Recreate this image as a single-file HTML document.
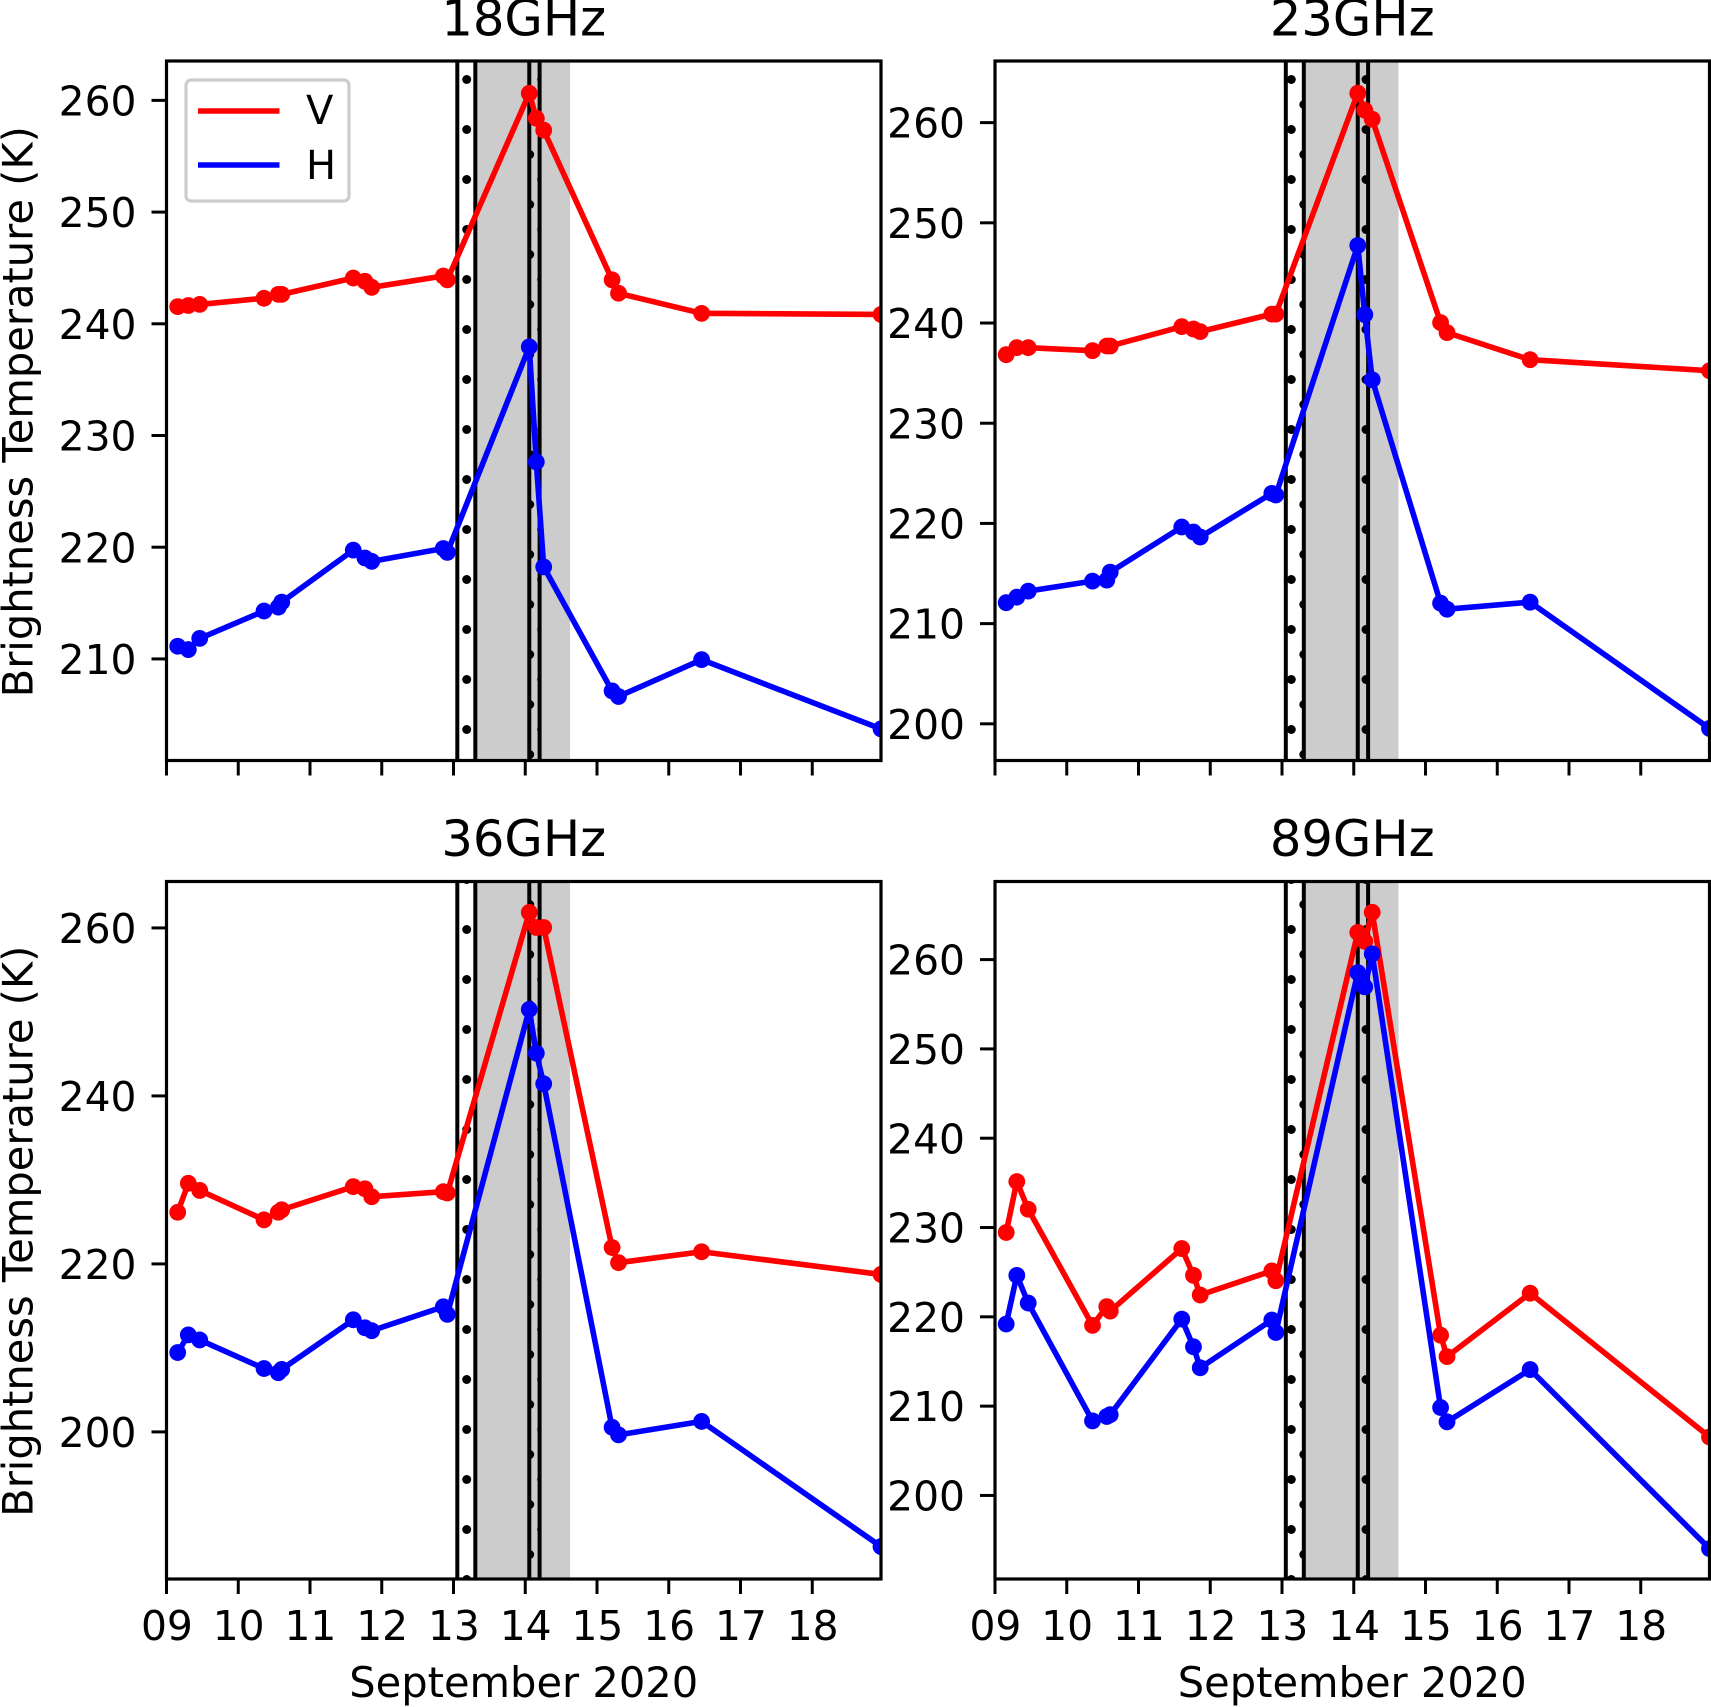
<!DOCTYPE html>
<html lang="en">
<head>
<meta charset="utf-8">
<title>Brightness Temperature, September 2020</title>
<style>
html,body{margin:0;padding:0;background:#fff;}
svg{display:block;font-family:"DejaVu Sans","Liberation Sans",sans-serif;fill:#000;}
</style>
</head>
<body>
<svg id="figure" xmlns="http://www.w3.org/2000/svg" width="1711" height="1707" viewBox="0 0 1711 1707">
<defs>
<pattern id="hatch-left" patternUnits="userSpaceOnUse" x="0" y="0" width="2000" height="50">
<circle cx="466.7" cy="29.5" r="4.5" fill="#000"/>
<circle cx="541.7" cy="29.5" r="4.5" fill="#000"/>
<circle cx="529.7" cy="4.5" r="4.5" fill="#000"/>
</pattern>
<pattern id="hatch-right" patternUnits="userSpaceOnUse" x="0" y="0" width="2000" height="50">
<circle cx="1291.3" cy="29.5" r="4.5" fill="#000"/>
<circle cx="1366" cy="29.5" r="4.5" fill="#000"/>
<circle cx="1303.8" cy="4.5" r="4.5" fill="#000"/>
</pattern>
</defs>
</svg>
<script>
// Observation times, in days of September 2020
const obsDays = [9.156,9.304,9.463,10.359,10.558,10.606,11.603,11.766,11.86,12.858,12.914,14.056,14.154,14.257,15.21,15.30,16.458,18.958];

// Series values (K)
const v18 = [241.5,241.6,241.7,242.25,242.6,242.6,244.06,243.77,243.23,244.24,243.9,260.6,258.36,257.3,243.9,242.7,240.9,240.8];
const h18 = [211.1,210.8,211.8,214.25,214.6,215.05,219.7,219.0,218.7,219.85,219.5,237.9,227.6,218.2,207.1,206.6,209.9,203.7];
const v23 = [236.8,237.5,237.5,237.2,237.67,237.67,239.6,239.36,239.1,240.85,240.85,262.9,261.2,260.3,240.0,239.0,236.3,235.2];
const h23 = [212.05,212.6,213.2,214.2,214.3,215.1,219.6,219.1,218.6,222.96,222.8,247.7,240.8,234.3,212.0,211.4,212.1,199.5];
const v36 = [226.1,229.55,228.7,225.2,226.1,226.4,229.15,228.9,227.95,228.55,228.4,261.8,260.0,260.0,221.9,220.1,221.4,218.7];
const h36 = [209.4,211.5,210.9,207.5,207.0,207.4,213.3,212.35,212.0,214.85,213.95,250.25,245.05,241.4,200.5,199.6,201.2,186.3];
const v89 = [229.4,235.1,232.0,219.0,221.1,220.6,227.6,224.6,222.4,225.1,224.0,263.0,262.0,265.25,217.9,215.5,222.6,206.5];
const h89 = [219.15,224.6,221.5,208.3,208.8,209.0,219.7,216.6,214.25,219.6,218.2,258.5,256.9,260.6,209.8,208.2,214.05,194.0];

// Tick labels
const xTickDays = [9,10,11,12,13,14,15,16,17,18];
const xTickLabels = ['09','10','11','12','13','14','15','16','17','18'];
const yTicks18 = [210,220,230,240,250,260];
const yTicks23 = [200,210,220,230,240,250,260];
const yTicks36 = [200,220,240,260];
const yTicks89 = [200,210,220,230,240,250,260];

// Event markers, in days
const hatchedSpans = [[13.053,13.304],[14.056,14.20]];
const graySpan = [13.304,14.624];

// Axis limits
const xDomain = [9,18.958];
const yDomain18 = [200.87,263.49];
const yDomain23 = [196.3,266.11];
const yDomain36 = [182.44,265.48];
const yDomain89 = [190.6,268.7];

const SVGNS = 'http://www.w3.org/2000/svg';
const svg = document.getElementById('figure');

function mk(parent, tag, attrs, text) {
  const el = document.createElementNS(SVGNS, tag);
  for (const k in attrs) el.setAttribute(k, attrs[k]);
  if (text !== undefined) el.textContent = text;
  parent.appendChild(el);
  return el;
}

function drawSeries(g, px, py, days, values, color, name) {
  const pts = days.map((d, i) => px(d).toFixed(2) + ',' + py(values[i]).toFixed(2)).join(' ');
  const line = mk(g, 'polyline', {points: pts, fill: 'none', stroke: color, 'stroke-width': 5.6, 'stroke-linejoin': 'round', 'stroke-linecap': 'butt'});
  
  
  days.forEach((d, i) => {
    const c = mk(g, 'circle', {cx: px(d).toFixed(2), cy: py(values[i]).toFixed(2), r: 8.4, fill: color});
    
    
  });
}

function drawPanel(cfg) {
  const {key, title, left, top, right, bottom, yDomain, yTicks, vVals, hVals, hatch, showYLabel, showXLabels} = cfg;
  const px = d => left + (d - xDomain[0]) / (xDomain[1] - xDomain[0]) * (right - left);
  const py = v => bottom - (v - yDomain[0]) / (yDomain[1] - yDomain[0]) * (bottom - top);

  const panel = mk(svg, 'g', {});
  
  

  const clip = mk(svg.querySelector('defs'), 'clipPath', {id: 'clip-' + key});
  mk(clip, 'rect', {x: left, y: top, width: right - left, height: bottom - top});

  const plot = mk(panel, 'g', {'clip-path': 'url(#clip-' + key + ')'});
  
  

  const gray = mk(plot, 'rect', {x: px(graySpan[0]), y: top, width: px(graySpan[1]) - px(graySpan[0]), height: bottom - top, fill: '#cccccc'});
  
  

  hatchedSpans.forEach(span => {
    const r = mk(plot, 'rect', {x: px(span[0]), y: top, width: px(span[1]) - px(span[0]), height: bottom - top, fill: 'url(#' + hatch + ')'});
    
    
    span.forEach(d => {
      const l = mk(plot, 'line', {x1: px(d), x2: px(d), y1: top, y2: bottom, stroke: '#000', 'stroke-width': 4});
      
      
    });
  });

  drawSeries(plot, px, py, obsDays, vVals, '#ff0000', 'series-v-' + key);
  drawSeries(plot, px, py, obsDays, hVals, '#0000ff', 'series-h-' + key);

  const frame = mk(panel, 'rect', {x: left, y: top, width: right - left, height: bottom - top, fill: 'none', stroke: '#000', 'stroke-width': 3.2});
  
  

  xTickDays.forEach((d, i) => {
    const t = mk(panel, 'line', {x1: px(d), x2: px(d), y1: bottom, y2: bottom + 15, stroke: '#000', 'stroke-width': 3});
    
    
    if (showXLabels) {
      const lab = mk(panel, 'text', {x: px(d) + 0.4, y: bottom + 61, 'font-size': 40.8, 'text-anchor': 'middle'}, xTickLabels[i]);
      
      
    }
  });

  yTicks.forEach(v => {
    const t = mk(panel, 'line', {x1: left - 15, x2: left, y1: py(v) + 0.4, y2: py(v) + 0.4, stroke: '#000', 'stroke-width': 3});
    
    
    const lab = mk(panel, 'text', {x: left - 30, y: py(v) + 15.5, 'font-size': 40.8, 'text-anchor': 'end'}, String(v));
    
    
  });

  const ttl = mk(panel, 'text', {x: (left + right) / 2, y: top - 25.5, 'font-size': 49.6, 'text-anchor': 'middle'}, title);
  
  

  if (showXLabels) {
    const xl = mk(panel, 'text', {x: (left + right) / 2, y: bottom + 118, 'font-size': 41.6, 'text-anchor': 'middle'}, 'September 2020');
    
    
  }
  if (showYLabel) {
    const cy = (top + bottom) / 2 + 1;
    const yl = mk(panel, 'text', {x: 32.5, y: cy, 'font-size': 41.6, 'text-anchor': 'middle', transform: 'rotate(-90 32.5 ' + cy + ')'}, 'Brightness Temperature (K)');
    
    
  }
}

drawPanel({key:'18ghz', title:'18GHz', left:166.5, right:881, top:61, bottom:760.5, yDomain:yDomain18, yTicks:yTicks18, vVals:v18, hVals:h18, hatch:'hatch-left', showYLabel:true, showXLabels:false});
drawPanel({key:'23ghz', title:'23GHz', left:995, right:1709.5, top:61, bottom:760.5, yDomain:yDomain23, yTicks:yTicks23, vVals:v23, hVals:h23, hatch:'hatch-right', showYLabel:false, showXLabels:false});
drawPanel({key:'36ghz', title:'36GHz', left:166.5, right:881, top:881.5, bottom:1579, yDomain:yDomain36, yTicks:yTicks36, vVals:v36, hVals:h36, hatch:'hatch-left', showYLabel:true, showXLabels:true});
drawPanel({key:'89ghz', title:'89GHz', left:995, right:1709.5, top:881.5, bottom:1579, yDomain:yDomain89, yTicks:yTicks89, vVals:v89, hVals:h89, hatch:'hatch-right', showYLabel:false, showXLabels:true});

// Legend
const legend = mk(svg, 'g', {});


const legendBox = mk(legend, 'rect', {x: 186, y: 80, width: 163, height: 121, rx: 5, ry: 5, fill: '#fff', 'fill-opacity': 0.8, stroke: '#cccccc', 'stroke-width': 3.2});


const legendLineV = mk(legend, 'line', {x1: 198, x2: 279.5, y1: 111, y2: 111, stroke: '#ff0000', 'stroke-width': 5.6});


const legendTextV = mk(legend, 'text', {x: 306, y: 124, 'font-size': 40}, 'V');


const legendLineH = mk(legend, 'line', {x1: 198, x2: 279.5, y1: 165, y2: 165, stroke: '#0000ff', 'stroke-width': 5.6});


const legendTextH = mk(legend, 'text', {x: 306, y: 179, 'font-size': 40}, 'H');


</script>
</body>
</html>
